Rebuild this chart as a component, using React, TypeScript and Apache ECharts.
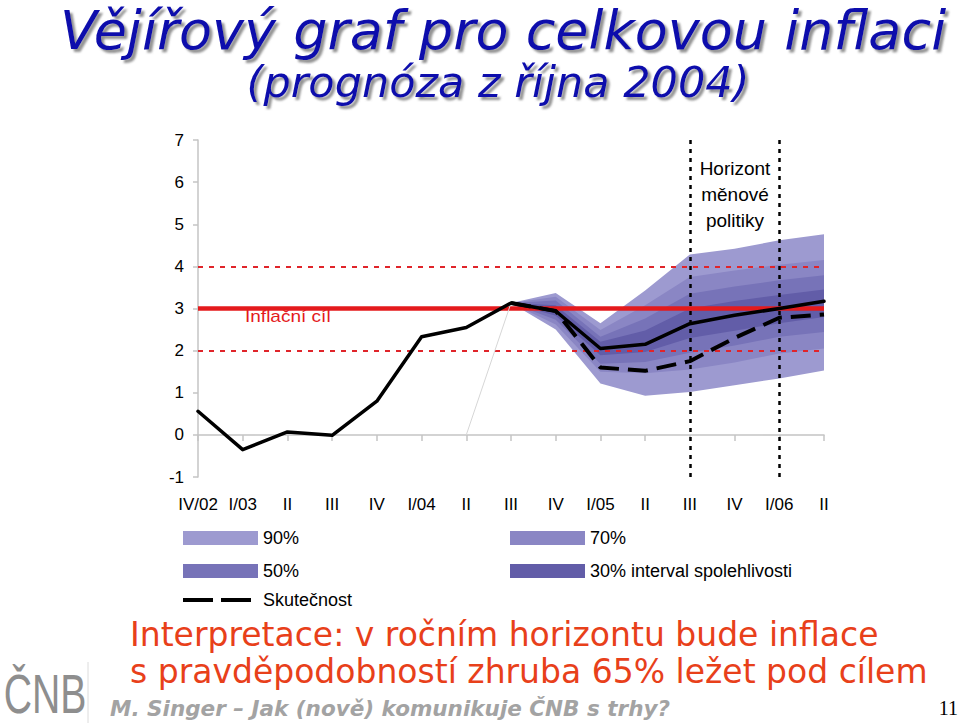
import React, { useEffect, useRef } from "react";
import * as echarts from "echarts";

// ---- data ----
const quarters = ["IV/02", "I/03", "II", "III", "IV", "I/04", "II", "III", "IV", "I/05", "II", "III", "IV", "I/06", "II"];
// headline inflation: history + central forecast (y/y, %)
const inflation = [0.56, -0.35, 0.07, -0.01, 0.8, 2.33, 2.55, 3.13, 2.94, 2.05, 2.15, 2.64, 2.84, 3.0, 3.17];
// outturn (Skutečnost), from III/04 on
const outturn = [null, null, null, null, null, null, null, 3.13, 2.94, 1.6, 1.52, 1.75, 2.3, 2.78, 2.86];
// thin guide line in the original picture
const guide = [null, null, null, null, null, null, 0.0, 3.13, null, null, null, null, null, null, null];

// fan bands start at index 7 (III/04)
const fanStart = 7;
const lo90 = [3.13, 2.5, 1.22, 0.93, 1.02, 1.18, 1.34, 1.53];
const hi90 = [3.13, 3.37, 2.65, 3.43, 4.28, 4.42, 4.62, 4.76];
const lo70 = [3.13, 2.62, 1.5, 1.46, 1.55, 1.72, 1.93, 2.05];
const hi70 = [3.13, 3.28, 2.49, 3.08, 3.75, 3.9, 4.04, 4.15];
const lo50 = [3.13, 2.73, 1.69, 1.73, 1.95, 2.12, 2.33, 2.44];
const hi50 = [3.13, 3.19, 2.33, 2.76, 3.35, 3.52, 3.67, 3.79];
const lo30 = [3.13, 2.83, 1.89, 1.97, 2.3, 2.47, 2.65, 2.8];
const hi30 = [3.13, 3.08, 2.21, 2.48, 3.0, 3.18, 3.32, 3.45];

const target = 3;
const toleranceBand = [2, 4];
const horizonIdx = [11, 13];

const bandNames = ["90%", "70%", "50%", "30% interval spolehlivosti"];
const bandColors = ["#9d9ad0", "#8a86c4", "#7773b8", "#625da8"];
const bandLo = [lo90, lo70, lo50, lo30];
const bandHi = [hi90, hi70, hi50, hi30];

const FONT = "Liberation Sans, Arial, sans-serif";

export default function App() {
  const ref = useRef<HTMLDivElement>(null);

  useEffect(() => {
    if (!ref.current) return;
    const chart = echarts.init(ref.current, undefined, { renderer: "svg" });

    const bandSeries = bandNames.map((name, b) => {
      const lo = bandLo[b];
      const hi = bandHi[b];
      const data = lo.map((v, i) => [fanStart + i, v, hi[i]]);
      return {
        name,
        type: "custom",
        z: 1 + b,
        itemStyle: { color: bandColors[b] },
        encode: { x: 0, y: [1, 2] },
        data,
        renderItem: (params: any, api: any) => {
          if (params.dataIndex !== 0) return null;
          const up = hi.map((v, i) => api.coord([fanStart + i, v]));
          const dn = lo.map((v, i) => api.coord([fanStart + i, v])).reverse();
          return {
            type: "polygon",
            shape: { points: up.concat(dn) },
            style: { fill: bandColors[b] },
          };
        },
      };
    });

    const legendText = { fontSize: 18, color: "#000", fontFamily: FONT };

    const option: any = {
      animation: false,
      backgroundColor: "#ffffff",
      grid: { left: 198, right: 136, top: 140, bottom: 246, containLabel: false },
      xAxis: {
        type: "category",
        data: quarters,
        boundaryGap: false,
        axisLine: { show: true, lineStyle: { color: "#c4c4c4", width: 1.5 } },
        axisTick: { show: true, length: 6, inside: false, lineStyle: { color: "#c4c4c4", width: 1.5 }, interval: 0 },
        axisLabel: { interval: 0, fontSize: 17, color: "#000", fontFamily: FONT, margin: 19 },
        splitLine: { show: false },
      },
      yAxis: {
        type: "value",
        min: -1,
        max: 7,
        interval: 1,
        axisLine: { show: true, lineStyle: { color: "#c4c4c4", width: 1.5 } },
        axisTick: { show: true, length: 5, lineStyle: { color: "#c4c4c4", width: 1.5 } },
        axisLabel: { fontSize: 17, color: "#000", fontFamily: FONT, margin: 14 },
        splitLine: { show: false },
      },
      legend: [
        {
          data: ["90%", "50%"],
          orient: "vertical",
          left: 183,
          top: 529,
          padding: 0,
          itemWidth: 75,
          itemHeight: 14,
          itemGap: 15,
          icon: "rect",
          textStyle: legendText,
          selectedMode: false,
        },
        {
          data: ["70%", "30% interval spolehlivosti"],
          orient: "vertical",
          left: 510,
          top: 529,
          padding: 0,
          itemWidth: 75,
          itemHeight: 14,
          itemGap: 15,
          icon: "rect",
          textStyle: legendText,
          selectedMode: false,
        },
        {
          data: [{ name: "Skutečnost", icon: "path://M0,0H30V4H0Z M38,0H68V4H38Z" }],
          orient: "vertical",
          left: 183,
          top: 591,
          padding: 0,
          itemWidth: 68,
          itemHeight: 4,
          textStyle: { ...legendText, padding: [0, 0, 0, 7] },
          itemStyle: { color: "#000" },
          selectedMode: false,
        },
      ],
      series: [
        ...bandSeries,
        {
          name: "cil",
          type: "line",
          z: 6,
          data: quarters.map(() => null),
          symbol: "none",
          markLine: {
            silent: true,
            symbol: "none",
            label: { show: false },
            data: [
              { yAxis: target, lineStyle: { color: "#e41a1c", width: 4.5, type: "solid" } },
              { yAxis: toleranceBand[0], lineStyle: { color: "#e0242a", width: 2, type: [5, 6] } },
              { yAxis: toleranceBand[1], lineStyle: { color: "#e0242a", width: 2, type: [5, 6] } },
            ],
          },
        },
        {
          name: "horizont",
          type: "line",
          z: 7,
          data: quarters.map(() => null),
          symbol: "none",
          markLine: {
            silent: true,
            symbol: "none",
            label: { show: false },
            lineStyle: { color: "#000", width: 2.5, type: [4, 5] },
            data: horizonIdx.map((i) => ({ xAxis: i })),
          },
        },
        {
          name: "guide",
          type: "line",
          z: 8,
          data: guide,
          symbol: "none",
          connectNulls: false,
          lineStyle: { color: "#d6d6d6", width: 1 },
        },
        {
          name: "Inflace",
          type: "line",
          z: 10,
          data: inflation,
          symbol: "none",
          lineStyle: { color: "#000", width: 3.5, cap: "round", join: "round" },
        },
        {
          name: "Skutečnost",
          type: "line",
          z: 11,
          data: outturn,
          symbol: "none",
          itemStyle: { color: "#000" },
          lineStyle: { color: "#000", width: 4, type: [20, 9] },
        },
      ],
      graphic: [
        {
          type: "text",
          x: 503,
          y: 30,
          style: {
            text: "Vějířový graf pro celkovou inflaci",
            font: "italic 54px 'DejaVu Sans', sans-serif",
            fill: "#0c0cac",
            align: "center",
            verticalAlign: "middle",
            textShadowColor: "rgba(110,110,110,0.75)",
            textShadowOffsetX: 3,
            textShadowOffsetY: 3,
            textShadowBlur: 2,
          },
        },
        {
          type: "text",
          x: 498,
          y: 82,
          style: {
            text: "(prognóza z října 2004)",
            font: "italic 43px 'DejaVu Sans', sans-serif",
            fill: "#0c0cac",
            align: "center",
            verticalAlign: "middle",
            textShadowColor: "rgba(110,110,110,0.75)",
            textShadowOffsetX: 3,
            textShadowOffsetY: 3,
            textShadowBlur: 2,
          },
        },
        {
          type: "text",
          x: 245,
          y: 316,
          z: 20,
          scaleX: 1.12,
          style: {
            text: "Inflační cíl",
            font: "17px 'Liberation Sans', Arial, sans-serif",
            fill: "#e41a1c",
            align: "left",
            verticalAlign: "middle",
          },
        },
        {
          type: "text",
          x: 735,
          y: 194,
          z: 20,
          style: {
            text: "Horizont\nměnové\npolitiky",
            font: "19px 'Liberation Sans', Arial, sans-serif",
            lineHeight: 26,
            fill: "#000",
            align: "center",
            verticalAlign: "middle",
          },
        },
        {
          type: "text",
          x: 130,
          y: 634,
          style: {
            text: "Interpretace: v ročním horizontu bude inflace",
            font: "33px 'DejaVu Sans', sans-serif",
            fill: "#e8401a",
            align: "left",
            verticalAlign: "middle",
          },
        },
        {
          type: "text",
          x: 130,
          y: 671,
          style: {
            text: "s pravděpodobností zhruba 65% ležet pod cílem",
            font: "33px 'DejaVu Sans', sans-serif",
            fill: "#e8401a",
            align: "left",
            verticalAlign: "middle",
          },
        },
        {
          type: "text",
          x: 110,
          y: 708,
          style: {
            text: "M. Singer – Jak (nově) komunikuje ČNB s trhy?",
            font: "italic bold 21.5px 'DejaVu Sans', sans-serif",
            fill: "#a3a3a3",
            align: "left",
            verticalAlign: "middle",
          },
        },
        {
          type: "text",
          x: 958,
          y: 708,
          style: {
            text: "11",
            font: "20px 'Liberation Serif', serif",
            fill: "#000",
            align: "right",
            verticalAlign: "middle",
          },
        },
        {
          type: "text",
          x: 45,
          y: 693,
          scaleX: 0.7,
          style: {
            text: "ČNB",
            font: "56px 'Liberation Sans', Arial, sans-serif",
            fill: "#8e8e8e",
            align: "center",
            verticalAlign: "middle",
          },
        },
        {
          type: "line",
          shape: { x1: 88, y1: 662, x2: 88, y2: 723 },
          style: { stroke: "#dcdcdc", lineWidth: 1 },
        },
      ],
    };

    chart.setOption(option);
    return () => chart.dispose();
  }, []);

  return (
    <div
      ref={ref}
      style={{ position: "absolute", left: 0, top: 0, width: 960, height: 723, background: "#fff" }}
    />
  );
}
